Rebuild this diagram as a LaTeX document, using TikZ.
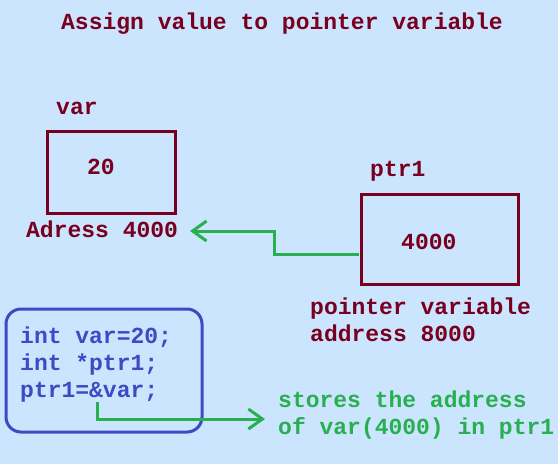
\documentclass[tikz,border=0pt]{standalone}
\usepackage{fontspec}
\setmonofont{Liberation Mono}
\usetikzlibrary{arrows.meta}
\definecolor{sfondo}{RGB}{204,229,255}
\definecolor{bordeaux}{RGB}{120,0,30}
\definecolor{bluastro}{RGB}{60,75,195}
\definecolor{verdino}{RGB}{40,175,80}
\tikzstyle{memory}=[
    label text/.style={font={\ttfamily\bfseries\fontsize{23}{27}\selectfont},text=bordeaux,inner sep=0pt,align=left},
    cell/.style={draw=bordeaux,line width=3pt,inner sep=0pt},
    code text/.style={label text,text=bluastro},
    code box/.style={draw=bluastro,line width=3pt,rounded corners=15pt,inner sep=0pt},
    note text/.style={label text,text=verdino},
    link/.style={draw=verdino,line width=3pt,-{Straight Barb[length=14pt,width=20pt,line width=3pt]}},
]

\begin{document}
\begin{tikzpicture}[memory,x=1pt,y=-1pt]

    \fill[sfondo] (0,0) rectangle (558,464);
    \useasboundingbox (0,0) rectangle (558,464);

    \node[label text] (title) at (282,24) {Assign value to pointer variable};

    % the variable
    \node[label text,anchor=west] (varname) at (56,108) {var};
    \node[cell,minimum width=128pt,minimum height=82pt] (varbox) at (111,172) {};
    \node[label text,anchor=west] (varval) at (87,167) {20};
    \node[label text,anchor=west] (varaddr) at (26,229) {Adress 4000};

    % the pointer
    \node[label text,anchor=west] (ptrname) at (370,171) {ptr1};
    \node[cell,minimum width=157pt,minimum height=90pt] (ptrbox) at (439.5,239) {};
    \node[label text,anchor=west] (ptrval) at (401,242) {4000};
    \node[label text,anchor=west] (ptraddr) at (310,320) {pointer variable\\address 8000};

    % the code
    \node[code box,minimum width=196pt,minimum height=123pt] (codebox) at (104,370.5) {};
    \node[code text,anchor=west] (code) at (20,365) {int var=20;\\int *ptr1;\\ptr1=\&var;};
    \node[note text,anchor=west] (note) at (278,415.5) {stores the address\\of var(4000) in ptr1};

    \coordinate (ptrout) at (359,254);
    \coordinate (addrin) at (190,231);
    \coordinate (amp) at (97,402);
    \coordinate (notein) at (265,419);

    \draw[link] (ptrout) -- (274,254) -- (274,231) -- (addrin);
    \draw[link] (amp) |- (notein);

\end{tikzpicture}
\end{document}
